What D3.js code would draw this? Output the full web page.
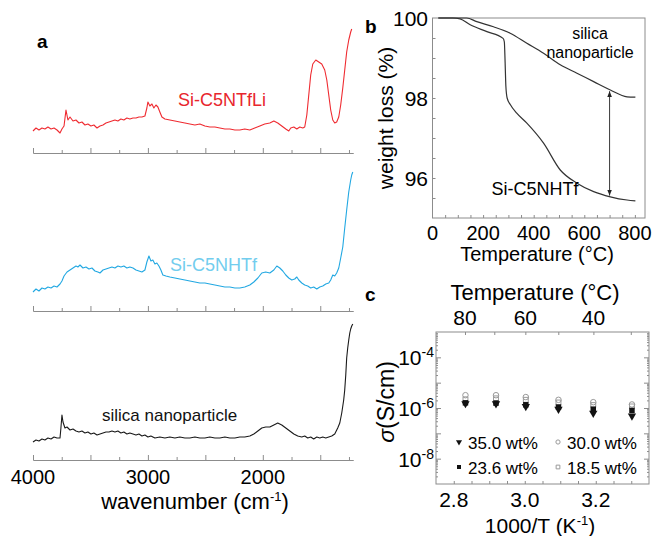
<!DOCTYPE html>
<html>
<head>
<meta charset="utf-8">
<script src="https://cdn.jsdelivr.net/npm/d3@7"></script>
<style>
  body { margin: 0; background: #fff; }
  svg { display: block; font-family: "Liberation Sans", Arial, sans-serif; }
</style>
</head>
<body>
<svg id="chart" width="655" height="536"></svg>
<script>
// ---- panel a: FTIR spectra, [wavenumber cm-1, intensity a.u.] ----
const wavenumberLabels = [4000, 3000, 2000];

const ftirSiC5NTfLi = [
  [4000,22],[3974,25],[3948,23],[3922,25],[3896,24],[3870,26],[3843,24],[3817,25],[3791,23],[3765,20],
  [3748,24],[3730,27],[3713,43],[3696,33],[3678,36],[3652,32],[3626,33],[3600,30],[3574,31],[3548,28],
  [3522,29],[3496,27],[3470,28],[3443,25],[3417,27],[3391,28],[3365,30],[3339,31],[3313,32],[3287,33],
  [3261,32],[3235,34],[3209,33],[3183,35],[3157,34],[3130,35],[3104,35],[3078,36],[3052,36],[3026,37],
  [3009,45],[3000,51],[2983,47],[2965,49],[2948,45],[2930,48],[2913,46],[2896,41],[2878,36],[2852,34],
  [2809,33],[2765,32],[2722,31],[2678,30],[2635,29],[2591,28],[2548,29],[2504,27],[2461,26],[2417,26],
  [2374,25],[2330,24],[2287,24],[2243,23],[2200,23],[2157,24],[2113,23],[2070,25],[2026,27],[1983,29],
  [1939,30],[1904,32],[1870,30],[1835,27],[1800,24],[1774,22],[1757,25],[1730,26],[1704,24],[1678,26],
  [1652,25],[1635,26],[1617,38],[1600,58],[1583,78],[1565,89],[1539,93],[1513,91],[1487,89],[1461,83],
  [1443,73],[1426,58],[1409,43],[1391,33],[1374,30],[1357,31],[1339,36],[1322,48],[1304,65],[1287,83],
  [1270,101],[1252,113],[1235,121],[1226,124]
];

const ftirSiC5NHTf = [
  [4000,19],[3974,22],[3948,20],[3922,23],[3896,22],[3870,24],[3843,23],[3817,25],[3791,24],[3765,27],
  [3748,30],[3730,35],[3704,39],[3678,41],[3652,43],[3626,45],[3609,44],[3591,46],[3565,43],[3539,44],
  [3513,42],[3487,43],[3461,40],[3435,39],[3417,38],[3391,41],[3365,42],[3339,43],[3313,44],[3287,43],
  [3261,45],[3235,44],[3209,45],[3183,43],[3157,44],[3130,43],[3104,41],[3078,40],[3052,39],[3026,41],
  [3009,49],[2991,55],[2974,50],[2957,51],[2939,47],[2922,48],[2904,45],[2887,41],[2870,36],[2843,35],
  [2809,34],[2765,33],[2722,32],[2678,31],[2635,30],[2591,29],[2548,28],[2504,28],[2461,27],[2417,26],
  [2374,25],[2330,24],[2287,24],[2243,23],[2200,23],[2157,24],[2113,26],[2078,29],[2043,33],[2009,38],
  [1974,39],[1939,38],[1904,41],[1878,45],[1852,43],[1826,40],[1800,36],[1774,33],[1748,31],[1722,32],
  [1704,34],[1687,31],[1661,28],[1635,26],[1609,25],[1583,23],[1557,24],[1530,22],[1504,24],[1478,25],
  [1452,27],[1426,28],[1409,31],[1391,36],[1374,35],[1357,38],[1339,43],[1322,53],[1304,64],[1287,83],
  [1270,101],[1252,119],[1235,131],[1226,136],[1217,139]
];

const ftirSilica = [
  [4000,18],[3974,20],[3948,19],[3922,21],[3896,20],[3870,22],[3843,21],[3817,23],[3791,22],[3765,22],
  [3757,32],[3748,45],[3739,38],[3722,32],[3704,33],[3678,30],[3652,31],[3626,29],[3600,28],[3574,29],
  [3548,27],[3522,28],[3496,26],[3470,27],[3443,25],[3417,26],[3391,27],[3365,28],[3339,28],[3313,29],
  [3287,28],[3261,29],[3235,27],[3209,28],[3183,26],[3157,27],[3130,26],[3104,25],[3078,26],[3052,24],
  [3026,25],[3000,23],[2974,24],[2939,22],[2896,23],[2852,22],[2809,23],[2765,22],[2722,23],[2678,22],
  [2635,22],[2591,23],[2548,22],[2504,22],[2461,23],[2417,22],[2374,22],[2330,23],[2287,22],[2243,22],
  [2200,23],[2157,23],[2113,24],[2078,26],[2043,29],[2009,32],[1974,33],[1939,33],[1904,35],[1870,37],
  [1835,35],[1800,32],[1765,29],[1730,26],[1696,24],[1661,23],[1635,24],[1609,22],[1583,23],[1557,21],
  [1530,23],[1504,22],[1478,23],[1452,22],[1426,23],[1400,24],[1374,26],[1348,32],[1330,37],[1313,47],
  [1296,60],[1287,70],[1278,85],[1270,102],[1261,112],[1252,120],[1243,127],[1235,131],[1226,134],[1217,136]
];

// ---- panel b: TGA ----
const tgaSilicaT = [23, 80, 135, 175, 241, 307, 373, 439, 505, 571, 637, 703, 769, 802];
const tgaSilicaW = [100, 100, 100, 99.91, 99.78, 99.62, 99.37, 99.12, 98.83, 98.62, 98.41, 98.2, 98.03, 98.02];
const tgaHTfT = [23, 80, 109, 149, 215, 279, 284, 287, 290, 295, 308, 333, 373, 439, 505, 571, 637, 703, 769, 802];
const tgaHTfW = [100, 100, 99.98, 99.83, 99.66, 99.49, 99.4, 98.9, 98.3, 98.0, 97.83, 97.62, 97.37, 96.87, 96.2, 95.87, 95.66, 95.53, 95.45, 95.43];
const tgaXLabels = [0, 200, 400, 600, 800];
const tgaYLabels = [96, 98, 100];
const arrowT = 700;
const arrowRange = [98.17, 95.56];

// ---- panel c: conductivity ----
const invT = [2.833, 2.919, 3.003, 3.095, 3.193, 3.302];
const sigma350 = [1.5e-6, 1.47e-6, 1.15e-6, 0.9e-6, 0.63e-6, 0.49e-6];
const sigma236 = [1.6e-6, 1.56e-6, 1.34e-6, 1.09e-6, 0.9e-6, 0.8e-6];
const sigma300 = [3.2e-6, 3.2e-6, 2.7e-6, 2.1e-6, 1.7e-6, 1.38e-6];
const sigma185 = [2.2e-6, 2.4e-6, 2.1e-6, 1.65e-6, 1.3e-6, 1.15e-6];
const invTLabels = [2.8, 3.0, 3.2];
const topTempLabels = [80, 60, 40];
const sigmaLabelExps = [-4, -6, -8];

const svg = d3.select('#chart');
const frameColor = '#8c8c8c';

svg.append('defs').append('marker')
  .attr('id', 'head')
  .attr('viewBox', '0 -5 10 10')
  .attr('refX', 10)
  .attr('refY', 0)
  .attr('orient', 'auto-start-reverse')
  .attr('markerWidth', 6)
  .attr('markerHeight', 6)
  .attr('markerUnits', 'userSpaceOnUse')
  .append('path')
  .attr('d', 'M0,-4L10,0L0,4Z')
  .attr('fill', '#222');

// ================= panel a =================
const xA = d3.scaleLinear().domain([4000, 1215]).range([33, 353]);

const spectra = [
  { data: ftirSiC5NTfLi, axisY: 153, color: '#ef2b31', label: 'Si-C5NTfLi', labelColor: '#e8262d', lx: 178, ly: 106, fs: 18 },
  { data: ftirSiC5NHTf, axisY: 311, color: '#22a8e2', label: 'Si-C5NHTf', labelColor: '#72cdee', lx: 170, ly: 271, fs: 18 },
  { data: ftirSilica, axisY: 460, color: '#1a1a1a', label: 'silica nanoparticle', labelColor: '#111', lx: 102, ly: 421, fs: 17 },
];

spectra.forEach((s) => {
  const y = d3.scaleLinear().domain([0, 130]).range([s.axisY, s.axisY - 130]);
  const g = svg.append('g');

  const minor = d3.axisBottom(xA)
    .tickValues(d3.range(3750, 1215, -500))
    .tickSizeInner(-3)
    .tickSizeOuter(0)
    .tickFormat('');
  const major = d3.axisBottom(xA)
    .tickValues(d3.range(4000, 1215, -500))
    .tickSizeInner(-5)
    .tickSizeOuter(0)
    .tickFormat('');
  g.append('g').attr('transform', `translate(0,${s.axisY})`).call(minor);
  g.append('g').attr('transform', `translate(0,${s.axisY})`).call(major);
  g.selectAll('.domain, .tick line').attr('stroke', frameColor);

  g.append('path')
    .datum(s.data)
    .attr('fill', 'none')
    .attr('stroke', s.color)
    .attr('stroke-width', 1.1)
    .attr('stroke-linejoin', 'round')
    .attr('d', d3.line().x((d) => xA(d[0])).y((d) => y(d[1])));

  g.append('text')
    .attr('x', s.lx)
    .attr('y', s.ly)
    .attr('font-size', s.fs)
    .attr('fill', s.labelColor)
    .text(s.label);
});

svg.selectAll(null)
  .data(wavenumberLabels)
  .enter()
  .append('text')
  .attr('x', (d) => xA(d))
  .attr('y', 484)
  .attr('text-anchor', 'middle')
  .attr('font-size', 20)
  .text((d) => d);

const titleA = svg.append('text')
  .attr('x', 195)
  .attr('y', 509)
  .attr('text-anchor', 'middle')
  .attr('font-size', 22);
titleA.append('tspan').text('wavenumber (cm');
titleA.append('tspan').attr('dy', -8).attr('font-size', 13).text('-1');
titleA.append('tspan').attr('dy', 8).text(')');

svg.append('text')
  .attr('x', 37)
  .attr('y', 48)
  .attr('font-size', 19)
  .attr('font-weight', 'bold')
  .text('a');

// ================= panel b =================
const xB = d3.scaleLinear().domain([0, 840]).range([432.5, 645]);
const yB = d3.scaleLinear().domain([95, 100]).range([218, 18]);
const gB = svg.append('g');

gB.append('g')
  .attr('transform', 'translate(0,218)')
  .call(d3.axisBottom(xB).tickValues(d3.range(50, 840, 50)).tickSizeInner(-3).tickSizeOuter(0).tickFormat(''));
gB.append('g')
  .attr('transform', 'translate(432.5,0)')
  .call(d3.axisLeft(yB).tickValues(d3.range(95.5, 100, 0.5)).tickSizeInner(-3).tickSizeOuter(0).tickFormat(''));
gB.selectAll('.domain').remove();
gB.selectAll('.tick line').attr('stroke', frameColor);

gB.append('rect')
  .attr('x', xB(0))
  .attr('y', yB(100))
  .attr('width', xB(840) - xB(0))
  .attr('height', yB(95) - yB(100))
  .attr('fill', 'none')
  .attr('stroke', frameColor);

const lineB = d3.line().x((d) => xB(d[0])).y((d) => yB(d[1])).curve(d3.curveMonotoneX);
[
  [tgaSilicaT, tgaSilicaW],
  [tgaHTfT, tgaHTfW],
].forEach(([ts, ws]) => {
  gB.append('path')
    .datum(ts.map((t, i) => [t, ws[i]]))
    .attr('fill', 'none')
    .attr('stroke', '#333')
    .attr('stroke-width', 1.2)
    .attr('d', lineB);
});

gB.append('line')
  .attr('x1', xB(arrowT))
  .attr('x2', xB(arrowT))
  .attr('y1', yB(arrowRange[0]))
  .attr('y2', yB(arrowRange[1]))
  .attr('stroke', '#222')
  .attr('stroke-width', 0.9)
  .attr('marker-start', 'url(#head)')
  .attr('marker-end', 'url(#head)');

gB.selectAll('.xl')
  .data(tgaXLabels)
  .enter()
  .append('text')
  .attr('x', (d) => xB(d))
  .attr('y', 240)
  .attr('text-anchor', 'middle')
  .attr('font-size', 20)
  .text((d) => d);

gB.selectAll('.yl')
  .data(tgaYLabels)
  .enter()
  .append('text')
  .attr('x', 428)
  .attr('y', (d) => yB(d) + 7.5)
  .attr('text-anchor', 'end')
  .attr('font-size', 21)
  .text((d) => d);

gB.append('text')
  .attr('x', 537)
  .attr('y', 261)
  .attr('text-anchor', 'middle')
  .attr('font-size', 20)
  .text('Temperature (°C)');

gB.append('text')
  .attr('transform', 'translate(393,118) rotate(-90)')
  .attr('text-anchor', 'middle')
  .attr('font-size', 21)
  .text('weight loss (%)');

gB.append('text').attr('x', 590).attr('y', 39).attr('text-anchor', 'middle').attr('font-size', 16).text('silica');
gB.append('text').attr('x', 590).attr('y', 58).attr('text-anchor', 'middle').attr('font-size', 16).text('nanoparticle');
gB.append('text').attr('x', 535).attr('y', 195).attr('text-anchor', 'middle').attr('font-size', 18).text('Si-C5NHTf');

gB.append('text')
  .attr('x', 365)
  .attr('y', 33)
  .attr('font-size', 19)
  .attr('font-weight', 'bold')
  .text('b');

// ================= panel c =================
const xC = d3.scaleLinear().domain([2.75, 3.35]).range([436, 649]);
const yC = d3.scaleLog().domain([1e-9, 1e-3]).range([484, 332]);
const gC = svg.append('g');

const logMinor = [];
for (let e = -9; e < -3; e++) {
  for (let m = 2; m <= 9; m++) logMinor.push(m * Math.pow(10, e));
}
const decades = d3.range(-8, -3).map((e) => Math.pow(10, e));

gC.append('g').attr('transform', 'translate(436,0)')
  .call(d3.axisLeft(yC).tickValues(logMinor).tickSizeInner(-2).tickSizeOuter(0).tickFormat(''));
gC.append('g').attr('transform', 'translate(436,0)')
  .call(d3.axisLeft(yC).tickValues(decades).tickSizeInner(-5).tickSizeOuter(0).tickFormat(''));
gC.append('g').attr('transform', 'translate(649,0)')
  .call(d3.axisRight(yC).tickValues(logMinor).tickSizeInner(-2).tickSizeOuter(0).tickFormat(''));
gC.append('g').attr('transform', 'translate(649,0)')
  .call(d3.axisRight(yC).tickValues(decades).tickSizeInner(-5).tickSizeOuter(0).tickFormat(''));
gC.append('g').attr('transform', 'translate(0,484)')
  .call(d3.axisBottom(xC).tickValues(d3.range(2.8, 3.34, 0.05)).tickSizeInner(-3).tickSizeOuter(0).tickFormat(''));
gC.append('g').attr('transform', 'translate(0,332)')
  .call(d3.axisTop(xC).tickValues([80, 70, 60, 50, 40, 30].map((t) => 1000 / (t + 273.15)))
    .tickSizeInner(-3).tickSizeOuter(0).tickFormat(''));
gC.selectAll('.domain').remove();
gC.selectAll('.tick line').attr('stroke', frameColor);

gC.append('rect')
  .attr('x', 436)
  .attr('y', 332)
  .attr('width', 213)
  .attr('height', 152)
  .attr('fill', 'none')
  .attr('stroke', frameColor);

const seriesC = [
  { values: sigma300, type: d3.symbolCircle, fill: 'none', stroke: '#9a9a9a', label: '30.0 wt%' },
  { values: sigma185, type: d3.symbolSquare, fill: 'none', stroke: '#9a9a9a', label: '18.5 wt%' },
  { values: sigma236, type: d3.symbolSquare, fill: '#111', stroke: 'none', label: '23.6 wt%' },
  { values: sigma350, type: d3.symbolTriangle, fill: '#111', stroke: 'none', label: '35.0 wt%', flip: true },
];

seriesC.forEach((s) => {
  gC.selectAll(null)
    .data(s.values)
    .enter()
    .append('path')
    .attr('d', d3.symbol().type(s.type).size(s.fill === 'none' ? 24 : 30))
    .attr('transform', (d, i) => `translate(${xC(invT[i])},${yC(d)})${s.flip ? ' rotate(180)' : ''}`)
    .attr('fill', s.fill)
    .attr('stroke', s.stroke)
    .attr('stroke-width', 1);
});

// legend
const legendItems = [
  { s: seriesC[3], x: 459, y: 443 },
  { s: seriesC[0], x: 558, y: 443 },
  { s: seriesC[2], x: 459, y: 468 },
  { s: seriesC[1], x: 558, y: 468 },
];
legendItems.forEach((it) => {
  gC.append('path')
    .attr('d', d3.symbol().type(it.s.type).size(it.s.fill === 'none' ? 14 : 16))
    .attr('transform', `translate(${it.x},${it.y - 1})${it.s.flip ? ' rotate(180)' : ''}`)
    .attr('fill', it.s.fill)
    .attr('stroke', it.s.stroke);
  gC.append('text')
    .attr('x', it.x + 9)
    .attr('y', it.y + 6)
    .attr('font-size', 17)
    .text(it.s.label);
});

gC.selectAll('.xl')
  .data(invTLabels)
  .enter()
  .append('text')
  .attr('x', (d) => xC(d))
  .attr('y', 507)
  .attr('text-anchor', 'middle')
  .attr('font-size', 21)
  .text((d) => d.toFixed(1));

gC.selectAll('.tl')
  .data(topTempLabels)
  .enter()
  .append('text')
  .attr('x', (d) => xC(1000 / (d + 273.15)))
  .attr('y', 325)
  .attr('text-anchor', 'middle')
  .attr('font-size', 21)
  .text((d) => d);

sigmaLabelExps.forEach((e) => {
  const t = gC.append('text')
    .attr('x', 434)
    .attr('y', yC(Math.pow(10, e)) + 8)
    .attr('text-anchor', 'end')
    .attr('font-size', 21);
  t.append('tspan').text('10');
  t.append('tspan').attr('dy', -8).attr('font-size', 14).text(e);
});

gC.append('text')
  .attr('x', 535)
  .attr('y', 300)
  .attr('text-anchor', 'middle')
  .attr('font-size', 22)
  .text('Temperature (°C)');

const titleCx = gC.append('text')
  .attr('x', 540)
  .attr('y', 533)
  .attr('text-anchor', 'middle')
  .attr('font-size', 21);
titleCx.append('tspan').text('1000/T (K');
titleCx.append('tspan').attr('dy', -8).attr('font-size', 13).text('-1');
titleCx.append('tspan').attr('dy', 8).text(')');

const titleCy = gC.append('text')
  .attr('transform', 'translate(394,402) rotate(-90)')
  .attr('text-anchor', 'middle')
  .attr('font-size', 23);
titleCy.append('tspan').attr('font-style', 'italic').text('σ');
titleCy.append('tspan').text('(S/cm)');

gC.append('text')
  .attr('x', 365)
  .attr('y', 301)
  .attr('font-size', 19)
  .attr('font-weight', 'bold')
  .text('c');
</script>
</body>
</html>
